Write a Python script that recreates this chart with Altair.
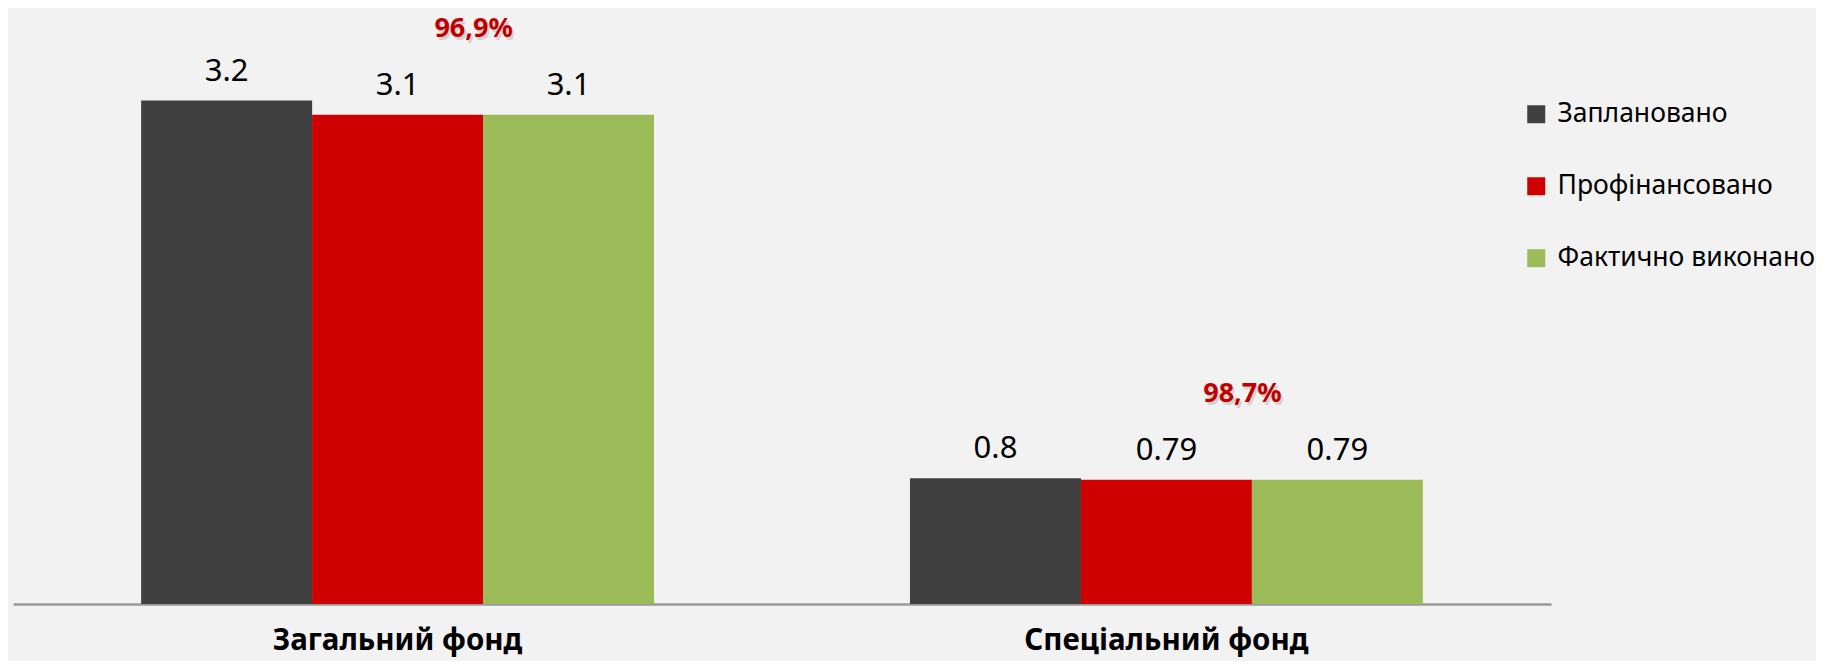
import altair as alt
import pandas as pd

funds = ["Загальний фонд", "Спеціальний фонд"]
series = ["Заплановано", "Профінансовано", "Фактично виконано"]
values_general = [3.2, 3.11, 3.11]
values_special = [0.8, 0.79, 0.79]
value_labels_general = ["3.2", "3.1", "3.1"]
value_labels_special = ["0.8", "0.79", "0.79"]
pct_labels = ["96,9%", "98,7%"]
colors = ["#404040", "#D00000", "#9BBB59"]

rows = []
for f, vals, labs in [(funds[0], values_general, value_labels_general),
                      (funds[1], values_special, value_labels_special)]:
    for s, v, l in zip(series, vals, labs):
        rows.append({"fund": f, "series": s, "value": v, "label": l})
df = pd.DataFrame(rows)

pct_df = pd.DataFrame({
    "fund": funds,
    "series": [series[1], series[1]],
    "value": [values_general[1], values_special[1]],
    "pct": pct_labels,
})

FONT = "Noto Sans"

x_enc = alt.X("fund:N", sort=funds,
              scale=alt.Scale(paddingInner=0.333, paddingOuter=0.1667),
              axis=alt.Axis(title=None, labelFontSize=29.5, labelFontWeight="bold",
                            labelColor="#000000", labelFont=FONT, labelPadding=22,
                            labelLimit=600,
                            ticks=False, domainColor="#9A9A9A", domainWidth=2.5,
                            labelAngle=0))
xo_enc = alt.XOffset("series:N", sort=series, scale=alt.Scale(paddingInner=0, paddingOuter=0))
y_enc = alt.Y("value:Q", scale=alt.Scale(domain=[0, 3.75], nice=False, zero=True),
              axis=None)

bars = alt.Chart(df).mark_bar(size=171).encode(
    x=x_enc, xOffset=xo_enc, y=y_enc,
    color=alt.Color("series:N", sort=series,
                    scale=alt.Scale(domain=series, range=colors),
                    legend=alt.Legend(title=None, orient="none", legendX=1510, legendY=87,
                                      symbolType="square", symbolSize=324,
                                      symbolStrokeWidth=0, labelFontSize=26.5,
                                      labelFont=FONT, labelColor="#000000",
                                      rowPadding=45, labelOffset=8, padding=0,
                                      labelLimit=400)),
)

vlabels = alt.Chart(df).mark_text(fontSize=31, font=FONT, color="#000000",
                                  baseline="alphabetic", dy=-20).encode(
    x=alt.X("fund:N", sort=funds), xOffset=alt.XOffset("series:N", sort=series),
    y="value:Q", text="label:N")

shadow = alt.Chart(pct_df).mark_text(fontSize=27, font=FONT, fontWeight="bold",
                                     color="#000000", opacity=0.12,
                                     baseline="middle", dx=78, dy=-83).encode(
    x=alt.X("fund:N", sort=funds), xOffset=alt.XOffset("series:N", sort=series),
    y="value:Q", text="pct:N")

pct = alt.Chart(pct_df).mark_text(fontSize=27, font=FONT, fontWeight="bold",
                                  color="#C00000", baseline="middle", dx=76, dy=-86).encode(
    x=alt.X("fund:N", sort=funds), xOffset=alt.XOffset("series:N", sort=series),
    y="value:Q", text="pct:N")

chart = alt.layer(bars, vlabels, shadow, pct).properties(
    width=1538, height=590,
    autosize=alt.AutoSizeParams(type="none"),
    padding={"left": 5, "top": 6, "right": 265, "bottom": 57},
    background="#F2F2F2",
).configure_view(stroke=None)

chart.save("out.html", embed_options={"renderer": "svg", "actions": False})
